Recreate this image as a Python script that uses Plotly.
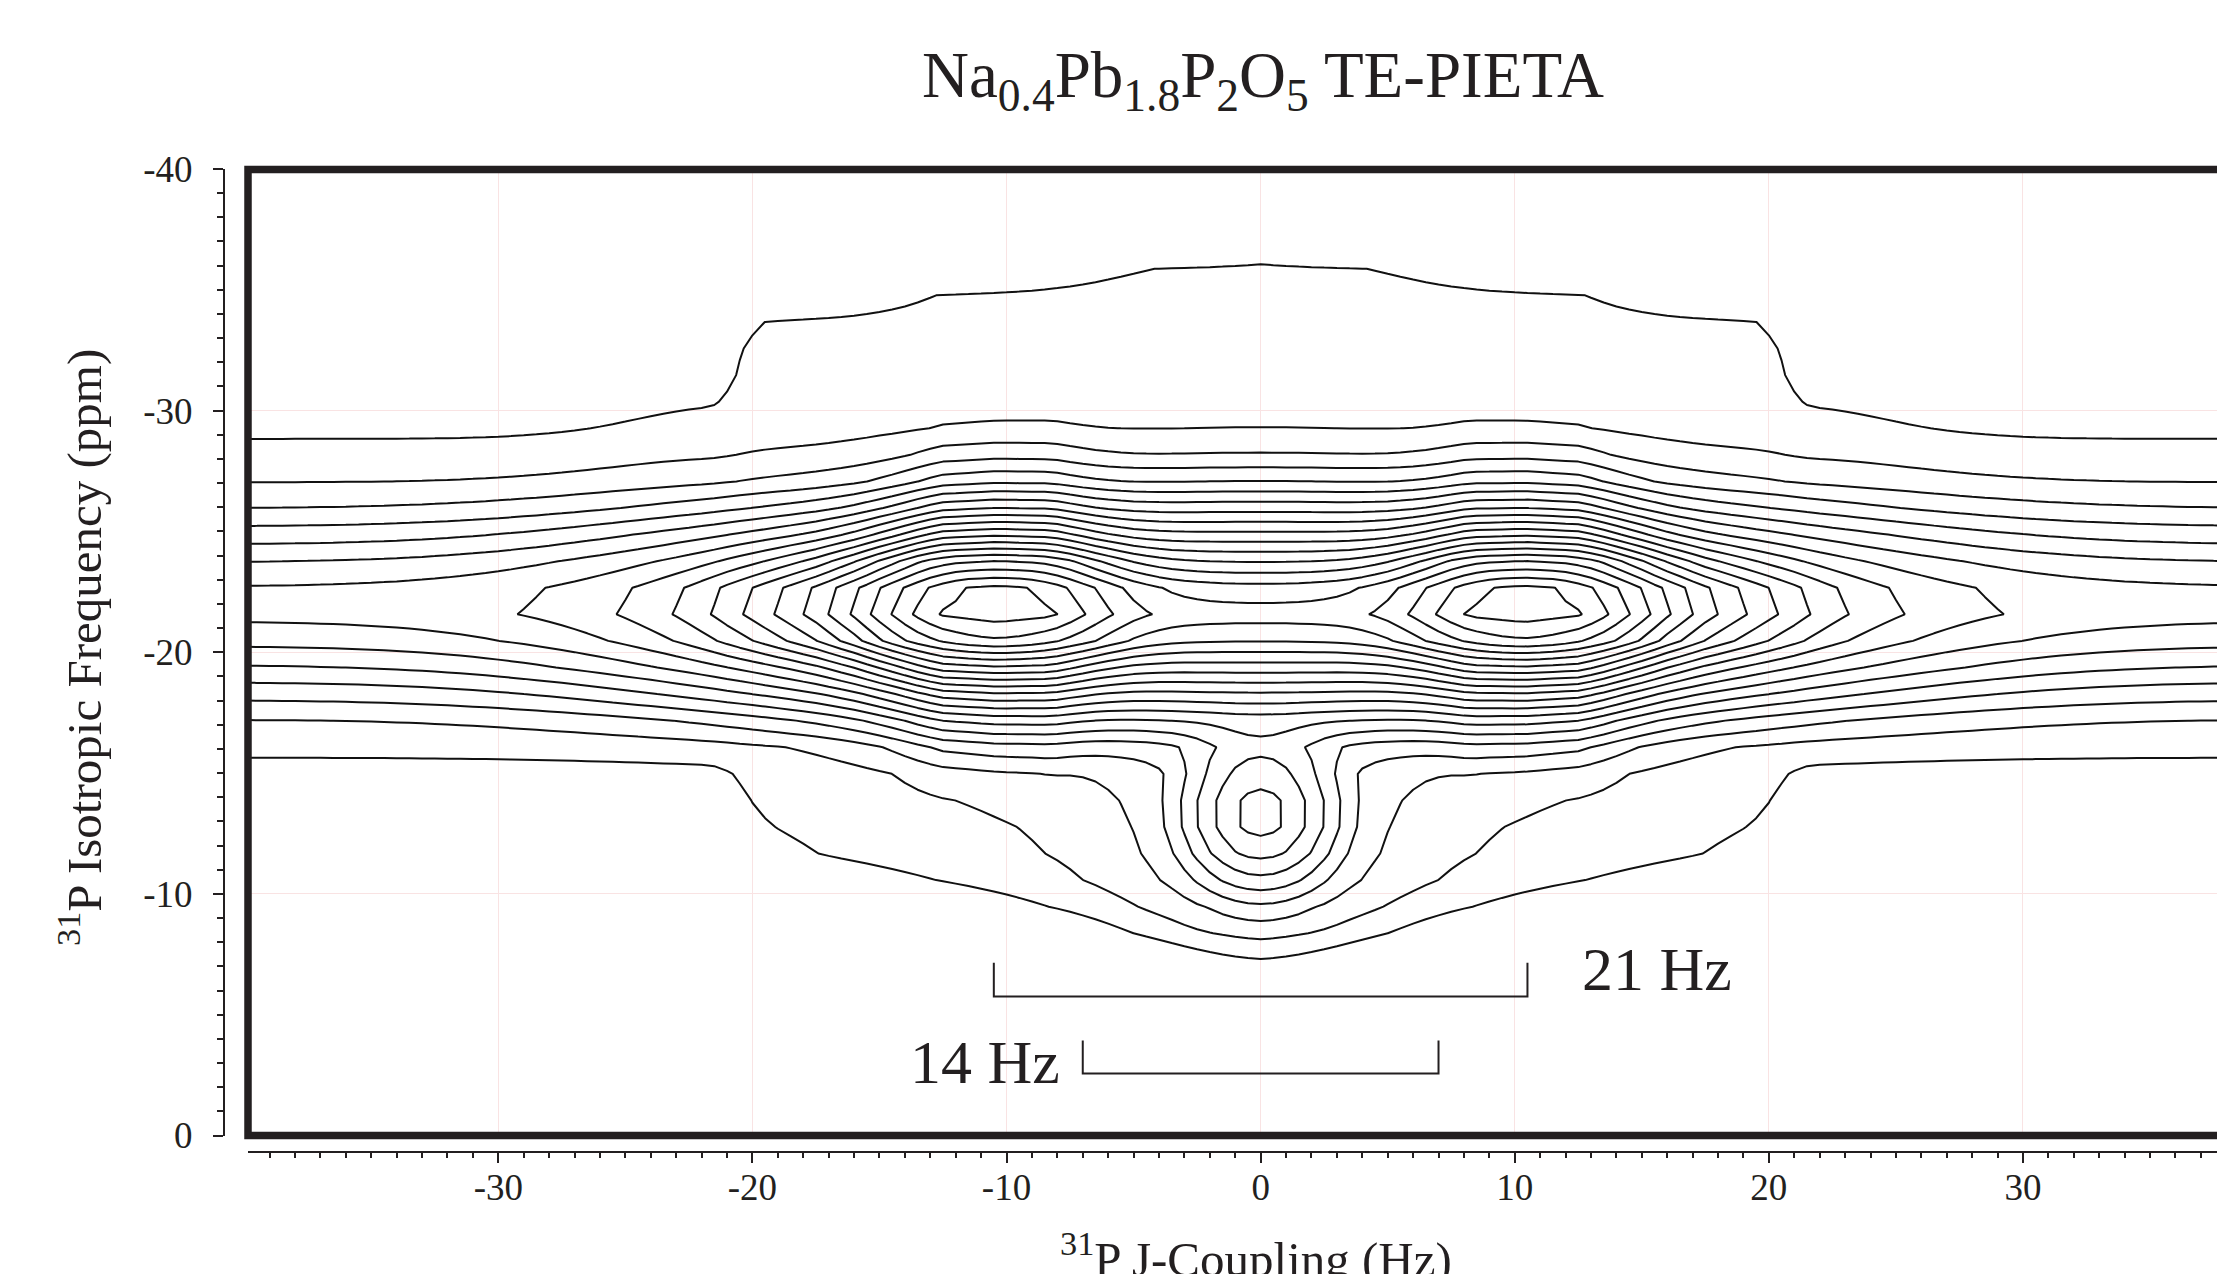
import numpy as np
import plotly.graph_objects as go

# ---------------- values ----------------
TITLE = "Na<sub>0.4</sub>Pb<sub>1.8</sub>P<sub>2</sub>O<sub>5</sub> TE-PIETA"
X_TITLE = "<sup>31</sup>P J-Coupling (Hz)"
Y_TITLE = "<sup>31</sup>P Isotropic Frequency (ppm)"
X_TICKS = [-30, -20, -10, 0, 10, 20, 30]
X_TICK_TEXT = ["-30", "-20", "-10", "0", "10", "20", "30"]
Y_TICKS = [-40, -30, -20, -10, 0]
Y_TICK_TEXT = ["-40", "-30", "-20", "-10", "0"]
X_RANGE = [-39.85, 37.95]
Y_RANGE = [0, -40]

# sampling grid of the spectrum (J axis fine, isotropic axis coarse)
J_STEP = 0.5
ISO_ROW0 = -21.57
ISO_STEP = 1.1

# contour levels: 20 levels, geometric ratio
LEVEL_RATIO = 1.65
LEVELS = list(range(1, 21))

# horizontal ridge: distance (ppm) of each level from the ridge centre, read at the plot edges
RIDGE_Y = -22.0
RIDGE_LEVEL = 7.6
RIDGE_DROP = [0, 0.6, 1.6, 2.6, 3.6, 4.6, 5.6, 6.6, 7.5, 8.4, 9.3, 11.0, 16.0]
RIDGE_UP_DY = [0, 0.73, 1.73, 2.47, 3.2, 3.96, 5.0, 6.78, 8.7, 11.2, 14.2, 20.0, 40.0]
RIDGE_DN_DY = [0, 0.76, 1.83, 2.54, 3.24, 3.95, 4.77, 6.31, 8.0, 10.5, 13.5, 20.0, 40.0]

# doublet peaks at +-10.4 Hz
PEAK_X = [-10.4, 10.4]
PEAK_Y = -21.86
PEAK_LEVEL = 20.5
PEAK_ASPECT = 2.55
# level drop along J (Hz)
PEAK_R = [0, 2.2, 3.2, 4.0, 4.8, 5.5, 6.3, 7.1, 8.1, 9.2, 10.5, 12.3, 15.0, 20.0, 30.0, 60.0]
PEAK_DROP = [0, 0.35, 1.35, 2.35, 3.35, 4.35, 5.35, 6.4, 7.45, 8.6, 10.0, 12.3, 15.6, 22.0, 34.0, 70.0]
# level drop along the isotropic axis (ppm)
PEAK_DY = [0, 0.84, 1.27, 1.56, 1.85, 2.11, 2.35, 2.6, 2.85, 3.1, 3.35, 3.62, 3.88, 4.17,
           4.48, 4.84, 5.23, 5.7, 6.3, 7.27, 8.0, 10.0, 20.0]
PEAK_DY_DROP = [0, 0.35, 1.35, 2.35, 3.35, 4.35, 5.35, 6.35, 7.35, 8.35, 9.35, 10.35, 11.35, 12.35,
                13.35, 14.65, 15.85, 17.0, 18.4, 21.3, 23.5, 29.0, 50.0]

# wings of the doublet along J
WING_LEVEL = 10.2
WING_SX = 12.3
WING_SY = 2.5

# central saddle between the doublet lines
SADDLE_Y = -21.6
SADDLE_LEVEL = 16.15
SADDLE_K = 2.4
SADDLE_A = 0.9
SADDLE_SX = 9.8

# central singlet at -13.25 ppm
CORE_Y = -13.25
CORE_LEVEL = 8.6
CORE_UP_STRETCH = 1.2
CORE_R = [0, 0.97, 1.8, 2.5, 3.1, 3.65, 4.25, 5.0, 5.8, 7.0, 10.0, 20.0]
CORE_DROP = [0, 0.7, 1.76, 2.9, 4.1, 5.3, 6.6, 7.6, 8.3, 9.5, 12.5, 25.0]

# broad pedestal (sharp edges at +-21 Hz)
PED_HALF = 21.0
PED_UP_Y = [-35.0, -29.0]
PED_UP_VAL = [1.25, 0.85]
PED_ARCH = 0.2
PED_TOP0 = -37.5
PED_TOP_SLOPE = 0.16
PED_SOFT = 0.3
HALO_UP = 0.45
HALO_W = 5.5
SKIRT_AMP = 2.45
SKIRT_SLOPE = 0.085
SKIRT_TOP = -15.2
SKIRT_TOP_SOFT = 0.4
SKIRT_BOTTOM0 = -7.0
SKIRT_BOTTOM_SLOPE = 0.07
SKIRT_RAMP = 3.5

# J brackets
BRACKET_21 = [-10.5, 10.5]
BRACKET_21_Y = [-7.15, -5.75]
BRACKET_14 = [-7.0, 7.0]
BRACKET_14_Y = [-3.93, -2.57]
LABEL_21 = ("21 Hz", 15.6, -6.9)
LABEL_14 = ("14 Hz", -10.85, -3.05)

# ---------------- build the field (in contour-level units) ----------------
lnq = np.log(LEVEL_RATIO)
xs = np.arange(-40.0, 38.51, J_STEP)
ys = ISO_ROW0 + ISO_STEP * np.arange(-17, 21)
X, Y = np.meshgrid(xs, ys)
AX = np.abs(X)

comps = []
dyr = Y - RIDGE_Y
ridge_drop = np.where(dyr < 0, np.interp(-dyr, RIDGE_UP_DY, RIDGE_DROP),
                      np.interp(dyr, RIDGE_DN_DY, RIDGE_DROP))
comps.append(RIDGE_LEVEL - ridge_drop)
for px in PEAK_X:
    dx = np.abs(X - px)
    dy = np.abs(Y - PEAK_Y)
    d_ell = np.interp(np.hypot(dx, dy * PEAK_ASPECT), PEAK_R, PEAK_DROP)
    d_sep = np.interp(dx, PEAK_R, PEAK_DROP) + np.interp(dy, PEAK_DY, PEAK_DY_DROP)
    comps.append(PEAK_LEVEL - np.maximum(d_ell, d_sep))
for px in PEAK_X:
    comps.append(WING_LEVEL - (((X - px) / WING_SX) ** 2 + ((Y - PEAK_Y) / WING_SY) ** 2) / lnq)
dys = Y - SADDLE_Y
comps.append(SADDLE_LEVEL - SADDLE_K * (np.sqrt(1 + (dys / SADDLE_A) ** 2) - 1) - (X / SADDLE_SX) ** 2 / lnq)
dyc = Y - CORE_Y
dyc = np.where(dyc < 0, dyc / CORE_UP_STRETCH, dyc)
comps.append(CORE_LEVEL - np.interp(np.hypot(X, dyc), CORE_R, CORE_DROP))

wx = np.exp(-(AX / PED_HALF) ** 40)
top_edge = 1 / (1 + np.exp(-(Y - (PED_TOP0 + PED_TOP_SLOPE * AX)) / PED_SOFT))
arch = 1 - PED_ARCH * (X / 20) ** 2 * np.clip((Y + 33) / 4, 0, 1)
upper = np.interp(Y, PED_UP_Y, PED_UP_VAL) * arch * top_edge * wx
upper += HALO_UP * np.exp(-((AX - PED_HALF) / HALO_W) ** 2) * (1 - wx) * top_edge
y_v = SKIRT_BOTTOM0 - SKIRT_BOTTOM_SLOPE * AX
skirt = (wx * np.maximum(SKIRT_AMP - SKIRT_SLOPE * AX, 0)
         / (1 + np.exp(-(Y - SKIRT_TOP) / SKIRT_TOP_SOFT))
         * np.clip((y_v - Y) / SKIRT_RAMP, 0, 1))
ped = np.where(Y < -22, upper, skirt)
comps.append(np.log(np.maximum(ped, 1e-30)) / lnq)

stack = np.stack(comps) * lnq
m = stack.max(axis=0)
Z = (m + np.log(np.exp(stack - m).sum(axis=0))) / lnq

# ---------------- figure ----------------
# (page body adds an 8 px margin, so everything is laid out 8 px up/left)
OFF = 8
W, H = 2225 - OFF, 1274 - OFF
ML, MR, MT = 224 - OFF, 0, 169 - OFF
MB = H - (1152 - OFF)
PW, PH = W - ML - MR, H - MT - MB
FRAME_L, FRAME_T, FRAME_B = 248 - OFF, 169.5 - OFF, 1135.5 - OFF
fx = lambda px: (px - OFF - ML) / PW
fy = lambda py: (H - MB - (py - OFF)) / PH

FONT = "Liberation Serif, Times New Roman, serif"
INK = "#231f20"

fig = go.Figure()
fig.add_trace(go.Contour(
    x=xs, y=ys, z=Z,
    autocontour=False,
    contours=dict(start=LEVELS[0], end=LEVELS[-1], size=1, coloring="none"),
    line=dict(color="#111111", width=2, smoothing=0),
    showscale=False, hoverinfo="skip",
))

for xb, yb in ((BRACKET_21, BRACKET_21_Y), (BRACKET_14, BRACKET_14_Y)):
    fig.add_trace(go.Scatter(
        x=[xb[0], xb[0], xb[1], xb[1]], y=[yb[0], yb[1], yb[1], yb[0]],
        mode="lines", line=dict(color=INK, width=2), hoverinfo="skip", showlegend=False,
    ))

grid_col = "#f9e3e3"
fig.update_layout(
    width=W, height=H,
    margin=dict(l=ML, r=MR, t=MT, b=MB, pad=0),
    paper_bgcolor="white", plot_bgcolor="white",
    showlegend=False,
    font=dict(family=FONT, size=37, color=INK),
    xaxis=dict(
        domain=[(FRAME_L - ML) / PW, 1], range=X_RANGE, anchor="free", position=0,
        tickmode="array", tickvals=X_TICKS, ticktext=X_TICK_TEXT,
        ticks="outside", ticklen=10, tickwidth=2, tickcolor=INK,
        showline=True, linecolor=INK, linewidth=2,
        showgrid=True, gridcolor=grid_col, gridwidth=1, zeroline=False,
        ticklabelstandoff=-7,
        minor=dict(tickmode="linear", tick0=0, dtick=1, ticks="outside", ticklen=5,
                   tickwidth=1.5, tickcolor=INK, showgrid=False),
    ),
    yaxis=dict(
        domain=[(H - MB - FRAME_B) / PH, 1], range=Y_RANGE, anchor="free", position=0,
        tickmode="array", tickvals=Y_TICKS, ticktext=Y_TICK_TEXT,
        ticks="outside", ticklen=10, tickwidth=2, tickcolor=INK,
        showline=True, linecolor=INK, linewidth=2,
        showgrid=True, gridcolor=grid_col, gridwidth=1, zeroline=False,
        ticklabelstandoff=13,
        minor=dict(tickmode="linear", tick0=0, dtick=1, ticks="outside", ticklen=6,
                   tickwidth=1.5, tickcolor=INK, showgrid=False),
    ),
)

fl = (FRAME_L - ML) / PW
ft = (H - MB - FRAME_T) / PH
fb = (H - MB - FRAME_B) / PH
fig.add_shape(type="path", xref="paper", yref="paper",
              path=f"M 1.02 {ft} L {fl} {ft} L {fl} {fb} L 1.02 {fb}",
              line=dict(color=INK, width=7.5))

fig.add_annotation(text=TITLE, xref="paper", yref="paper", x=fx(1263), y=fy(80),
                   xanchor="center", yanchor="middle", showarrow=False,
                   font=dict(family=FONT, size=65, color=INK))
fig.add_annotation(text=X_TITLE, xref="paper", yref="paper", x=fx(1256), y=fy(1255),
                   xanchor="center", yanchor="middle", showarrow=False,
                   font=dict(family=FONT, size=49, color=INK))
fig.add_annotation(text=Y_TITLE, xref="paper", yref="paper", x=fx(80), y=fy(648),
                   xanchor="center", yanchor="middle", showarrow=False, textangle=-90,
                   font=dict(family=FONT, size=49, color=INK))
for txt, lx, ly in (LABEL_21, LABEL_14):
    fig.add_annotation(text=txt, x=lx, y=ly, xref="x", yref="y", showarrow=False,
                       xanchor="center", yanchor="middle",
                       font=dict(family=FONT, size=62, color=INK))

fig.write_html("out.html")
